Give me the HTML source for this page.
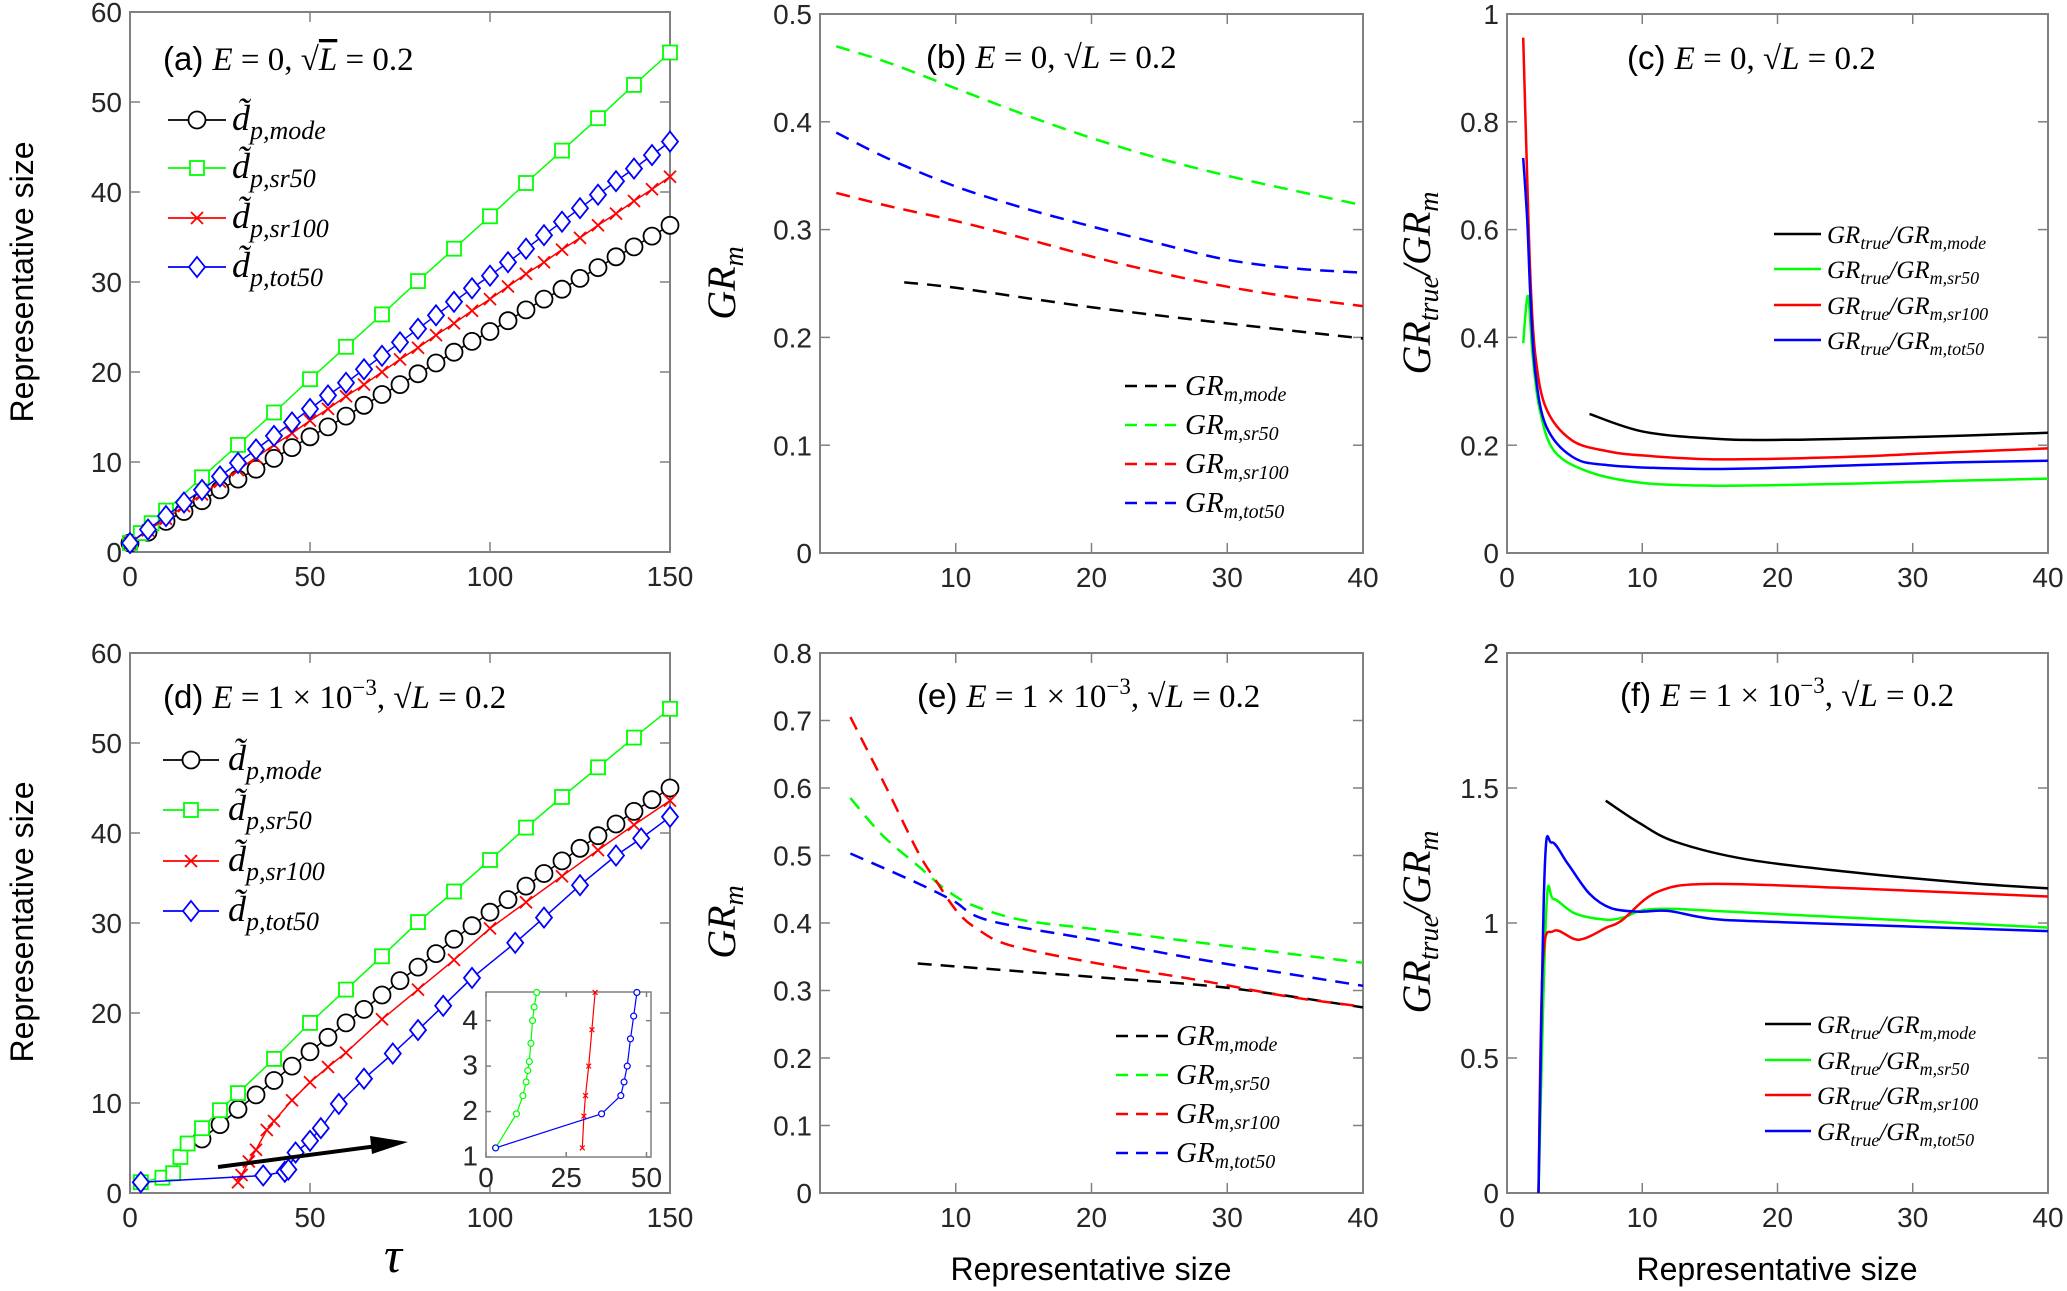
<!DOCTYPE html>
<html><head><meta charset="utf-8">
<style>
html,body{margin:0;padding:0;background:#fff;}
svg{display:block;}
.tk{font-family:"Liberation Sans",sans-serif;font-size:28px;fill:#262626;}
.ser{font-family:"Liberation Serif",serif;font-style:italic;}
.sans{font-family:"Liberation Sans",sans-serif;}
</style></head>
<body>
<svg id="fig" width="2067" height="1291" viewBox="0 0 2067 1291" xmlns="http://www.w3.org/2000/svg">
<text class="sans" font-size="32" fill="#000" text-anchor="middle" transform="translate(33,282) rotate(-90)">Representative size</text>
<text class="sans" font-size="32" fill="#000" text-anchor="middle" transform="translate(33,922) rotate(-90)">Representative size</text>
<text class="ser" font-size="40" fill="#000" text-anchor="middle" transform="translate(735,283) rotate(-90)">GR<tspan font-size="28" dy="8">m</tspan></text>
<text class="ser" font-size="40" fill="#000" text-anchor="middle" transform="translate(735,922) rotate(-90)">GR<tspan font-size="28" dy="8">m</tspan></text>
<text class="ser" font-size="40" fill="#000" text-anchor="middle" transform="translate(1430,283) rotate(-90)">GR<tspan font-size="28" dy="8">true</tspan><tspan dy="-8">/GR</tspan><tspan font-size="28" dy="8">m</tspan></text>
<text class="ser" font-size="40" fill="#000" text-anchor="middle" transform="translate(1430,922) rotate(-90)">GR<tspan font-size="28" dy="8">true</tspan><tspan dy="-8">/GR</tspan><tspan font-size="28" dy="8">m</tspan></text>
<text class="ser" font-size="50" fill="#000" x="384" y="1272">τ</text>
<text class="sans" font-size="32" fill="#000" x="1091" y="1280" text-anchor="middle">Representative size</text>
<text class="sans" font-size="32" fill="#000" x="1777" y="1280" text-anchor="middle">Representative size</text>
</svg>
<script>
// ---------- Panel (a) data ----------
const aTau = [0,5,10,15,20,25,30,35,40,45,50,55,60,65,70,75,80,85,90,95,100,105,110,115,120,125,130,135,140,145,150];
const aMode = [1.0,2.2,3.4,4.5,5.7,6.9,8.1,9.2,10.4,11.6,12.8,13.9,15.1,16.3,17.5,18.6,19.8,21.0,22.2,23.4,24.5,25.7,26.9,28.1,29.2,30.4,31.6,32.8,33.9,35.1,36.3];
const aSr100 = [1.0,2.4,3.7,5.1,6.4,7.8,9.1,10.5,11.9,13.2,14.6,15.9,17.3,18.6,20.0,21.4,22.7,24.1,25.4,26.8,28.1,29.5,30.9,32.2,33.6,34.9,36.3,37.6,39.0,40.3,41.7];
const aTot50 = [1.0,2.5,4.0,5.5,6.9,8.4,9.9,11.4,12.9,14.4,15.9,17.4,18.8,20.3,21.8,23.3,24.8,26.3,27.8,29.3,30.7,32.2,33.7,35.2,36.7,38.2,39.7,41.2,42.6,44.1,45.6];
const aTauSr50 = [0,3,6,10,20,30,40,50,60,70,80,90,100,110,120,130,140,150];
const aSr50 = [1.0,2.1,3.2,4.6,8.3,11.9,15.5,19.2,22.8,26.4,30.1,33.7,37.3,41.0,44.6,48.2,51.9,55.5];
// ---------- Panel (b) data ----------
const bXmode = [6.2,10,20,30,40];
const bMode = [0.251,0.246,0.228,0.213,0.199];
const bX = [1.2,5,10,15,20,25,30,35,40];
const bSr50 = [0.47,0.455,0.431,0.407,0.385,0.366,0.35,0.336,0.3225];
const bSr100 = [0.334,0.322,0.308,0.292,0.275,0.26,0.247,0.237,0.229];
const bTot50 = [0.39,0.366,0.34,0.32,0.303,0.287,0.272,0.264,0.26];
// ---------- Panel (c) data ----------
const cXmode = [6.1,10.1,15.4,20.7,31.2,40];
const cMode = [0.258,0.225,0.212,0.21,0.216,0.223];
const cXsr50 = [1.2,1.55,1.9,2.4,3.5,6.1,10,15,20,26,33,40];
const cSr50 = [0.389,0.477,0.366,0.268,0.189,0.15,0.13,0.125,0.126,0.129,0.134,0.138];
const cXsr100 = [1.2,1.5,1.75,2.1,2.9,4.8,7.4,10,15,20,26,32,40];
const cSr100 = [0.956,0.69,0.5,0.366,0.268,0.209,0.189,0.181,0.174,0.175,0.179,0.186,0.194];
const cXtot50 = [1.2,1.5,1.75,2.1,2.9,4.8,7.4,14,20,26,33,40];
const cTot50 = [0.733,0.615,0.464,0.333,0.235,0.179,0.163,0.156,0.158,0.163,0.168,0.171];
// ---------- Panel (d) data ----------
const dTauMode = [20,25,30,35,40,45,50,55,60,65,70,75,80,85,90,95,100,105,110,115,120,125,130,135,140,145,150];
const dMode = [6.0,7.6,9.3,10.9,12.5,14.1,15.7,17.3,18.9,20.4,22.0,23.6,25.1,26.6,28.2,29.7,31.2,32.6,34.1,35.5,36.9,38.3,39.7,41.0,42.4,43.7,45.0];
const dTauSr50 = [3,9,12,14,16,20,25,30,40,50,60,70,80,90,100,110,120,130,140,150];
const dSr50 = [1.2,1.7,2.2,4.0,5.5,7.2,9.2,11.1,14.9,18.9,22.6,26.3,30.1,33.5,37.0,40.6,44.0,47.3,50.6,53.8];
const dTauSr100 = [30,31,33,35,38,40,45,50,55,60,70,80,90,100,110,120,130,140,150];
const dSr100 = [1.2,2.0,3.5,4.8,7.0,8.0,10.3,12.3,14.0,15.6,19.3,22.6,25.9,29.4,32.3,35.2,38.1,40.9,43.6];
const dTauTot50 = [3,37,43,44,46,50,53,58,65,73,80,87,95,107,115,125,135,142,150];
const dTot50 = [1.2,1.95,2.35,2.6,4.5,5.8,7.2,9.9,12.7,15.5,18.1,20.8,23.9,27.8,30.6,34.2,37.5,39.4,41.8];
// inset
const inXsr50 = [3,9.5,11.5,12.5,13,13.5,14,14.5,15,15.8];
const inSr50 = [1.2,1.95,2.35,2.65,2.9,3.1,3.5,4.0,4.3,4.62];
const inXsr100 = [30,30.5,31,32,33,34];
const inSr100 = [1.2,1.9,2.35,3.0,3.8,4.62];
const inXtot50 = [3,36,42,43,44,45,46,47];
const inTot50 = [1.2,1.95,2.35,2.65,3.0,3.6,4.1,4.62];
// ---------- Panel (e) data ----------
const eXmode = [7.2,20.2,30,40];
const eMode = [0.34,0.32,0.304,0.275];
const eXsr50 = [2.24,4.6,7.2,9.3,11.4,15,20.2,28,40];
const eSr50 = [0.585,0.53,0.485,0.449,0.425,0.404,0.391,0.371,0.341];
const eXsr100 = [2.24,4.9,7.2,8.5,10.1,11.6,14,20.2,28,34.5,40];
const eSr100 = [0.705,0.6,0.506,0.464,0.417,0.391,0.367,0.341,0.315,0.291,0.276];
const eXtot50 = [2.24,7.2,9.8,12.4,20.2,28,40];
const eTot50 = [0.503,0.459,0.433,0.404,0.375,0.346,0.307];
// ---------- Panel (f) data ----------
const fXmode = [7.3,9.8,12.5,17.7,25.7,33.6,40];
const fMode = [1.453,1.37,1.30,1.236,1.187,1.15,1.128];
const fXsr50 = [2.33,2.9,3.44,5,7.15,8.5,10.9,17.7,40];
const fSr50 = [0,1.043,1.089,1.036,1.013,1.019,1.052,1.039,0.983];
const fXsr100 = [2.33,2.65,3.44,5.3,7.4,8.5,11.1,15.1,25.7,40];
const fSr100 = [0,0.846,0.97,0.938,0.984,1.01,1.115,1.145,1.128,1.098];
const fXtot50 = [2.33,2.78,3.3,4.5,6.1,7.7,9.8,11.9,15.1,20.4,40];
const fTot50 = [0,1.187,1.298,1.219,1.108,1.055,1.042,1.045,1.016,1.003,0.97];

const NS = 'http://www.w3.org/2000/svg';
const svg = document.getElementById('fig');
function mk(tag, attrs, parent){
  const e = document.createElementNS(NS, tag);
  for (const k in attrs) e.setAttribute(k, attrs[k]);
  (parent||svg).appendChild(e);
  return e;
}
function axes(p, name){
  p.sx = v => p.l + (v - p.xmin)/(p.xmax - p.xmin)*(p.r - p.l);
  p.sy = v => p.b - (v - p.ymin)/(p.ymax - p.ymin)*(p.b - p.t);
  const g = mk('g', {});
  
  
  p.g = g;
  if (p.bg) mk('rect', {x:p.l, y:p.t, width:p.r-p.l, height:p.b-p.t, fill:'#fff'}, g);
  const box = mk('rect', {x:p.l, y:p.t, width:p.r-p.l, height:p.b-p.t, fill:'none', stroke:'#808080', 'stroke-width':p.tl?1.5:2}, g);
  
  
  const tl = p.tl || 10;
  p.xt.forEach((v,i) => {
    const x = p.sx(v);
    const t1 = mk('line', {x1:x, x2:x, y1:p.b, y2:p.b-tl, stroke:'#808080', 'stroke-width':1.5}, g);
    
    
    mk('line', {x1:x, x2:x, y1:p.t, y2:p.t+tl, stroke:'#808080', 'stroke-width':1.5}, g);
    const tx = mk('text', {x:x, y:p.b + (p.fs||28) + 6, 'text-anchor':'middle', class:'tk', 'font-size':p.fs||28}, g);
    
    
    tx.textContent = p.xl[i];
  });
  p.yt.forEach((v,i) => {
    const y = p.sy(v);
    const t1 = mk('line', {x1:p.l, x2:p.l+tl, y1:y, y2:y, stroke:'#808080', 'stroke-width':1.5}, g);
    
    
    mk('line', {x1:p.r, x2:p.r-tl, y1:y, y2:y, stroke:'#808080', 'stroke-width':1.5}, g);
    const tx = mk('text', {x:p.l-8, y:y+(p.fs||28)*0.36, 'text-anchor':'end', class:'tk', 'font-size':p.fs||28}, g);
    
    
    tx.textContent = p.yl[i];
  });
  return p;
}
function smoothPath(pts){
  let d = 'M' + pts[0][0].toFixed(1) + ' ' + pts[0][1].toFixed(1);
  for (let i = 0; i < pts.length - 1; i++){
    const p0 = pts[Math.max(0,i-1)], p1 = pts[i], p2 = pts[i+1], p3 = pts[Math.min(pts.length-1,i+2)];
    const c1x = p1[0] + (p2[0]-p0[0])/6, c1y = p1[1] + (p2[1]-p0[1])/6;
    const c2x = p2[0] - (p3[0]-p1[0])/6, c2y = p2[1] - (p3[1]-p1[1])/6;
    d += ` C${c1x.toFixed(1)} ${c1y.toFixed(1)} ${c2x.toFixed(1)} ${c2y.toFixed(1)} ${p2[0].toFixed(1)} ${p2[1].toFixed(1)}`;
  }
  return d;
}
function line(p, xs, ys, color, opts, name){
  opts = opts || {};
  const pts = xs.map((x,i) => [p.sx(x), p.sy(ys[i])]);
  const d = opts.smooth ? smoothPath(pts) : pts.map((q,i) => (i?'L':'M') + q[0].toFixed(1) + ' ' + q[1].toFixed(1)).join(' ');
  const a = {d:d, fill:'none', stroke:color, 'stroke-width':opts.w||2.5, 'stroke-linejoin':'round'};
  if (opts.dash) a['stroke-dasharray'] = opts.dash;
  const e = mk('path', a, p.g);
  
  
  if (opts.marker) xs.forEach((x,i) => {
    const m = marker(p.g, opts.marker, p.sx(x), p.sy(ys[i]), color, opts.ms||1);
    
    
  });
  return e;
}
function marker(parent, type, x, y, c, s){
  const sw = s < 1 ? 1.2 : 1.8;
  if (type === 'o') return mk('circle', {cx:x, cy:y, r:8.5*s, fill:'#fff', stroke:c, 'stroke-width':sw}, parent);
  if (type === 's') return mk('rect', {x:x-7*s, y:y-7*s, width:14*s, height:14*s, fill:'#fff', stroke:c, 'stroke-width':sw}, parent);
  if (type === 'd') return mk('path', {d:`M${x} ${y-10*s} L${x+8*s} ${y} L${x} ${y+10*s} L${x-8*s} ${y} Z`, fill:'#fff', stroke:c, 'stroke-width':sw}, parent);
  return mk('path', {d:`M${x-6*s} ${y-6*s} L${x+6*s} ${y+6*s} M${x+6*s} ${y-6*s} L${x-6*s} ${y+6*s}`, fill:'none', stroke:c, 'stroke-width':sw}, parent);
}
function label(x, y, prefix, math, name){
  const t = mk('text', {x:x, y:y, 'font-size':33, fill:'#000'});
  
  
  t.innerHTML = `<tspan font-family="Liberation Sans,sans-serif">${prefix} </tspan><tspan font-family="Liberation Serif,serif">${math}</tspan>`;
}
const G='#00ff00', R='#ff0000', B='#0000ff', K='#000000';

// ----- Panel a -----
const A = axes({l:130,r:670,t:12,b:552,xmin:0,xmax:150,ymin:0,ymax:60,xt:[0,50,100,150],xl:['0','50','100','150'],yt:[0,10,20,30,40,50,60],yl:['0','10','20','30','40','50','60']}, 'panel-a');
line(A, aTau, aMode, K, {w:1.5, marker:'o'}, 'series-a-mode');
line(A, aTauSr50, aSr50, G, {w:1.5, marker:'s'}, 'series-a-sr50');
line(A, aTau, aSr100, R, {w:1.5, marker:'x'}, 'series-a-sr100');
line(A, aTau, aTot50, B, {w:1.5, marker:'d'}, 'series-a-tot50');
label(163, 70, '(a)', '<tspan font-style="italic">E</tspan> = 0, √<tspan font-style="italic" text-decoration="overline">L</tspan> = 0.2', 'panel-a-title');

// ----- Panel d -----
const D = axes({l:130,r:670,t:653,b:1193,xmin:0,xmax:150,ymin:0,ymax:60,xt:[0,50,100,150],xl:['0','50','100','150'],yt:[0,10,20,30,40,50,60],yl:['0','10','20','30','40','50','60']}, 'panel-d');
line(D, dTauMode, dMode, K, {w:1.5, marker:'o'}, 'series-d-mode');
line(D, dTauSr50, dSr50, G, {w:1.5, marker:'s'}, 'series-d-sr50');
line(D, dTauSr100, dSr100, R, {w:1.5, marker:'x'}, 'series-d-sr100');
line(D, dTauTot50, dTot50, B, {w:1.5, marker:'d'}, 'series-d-tot50');
label(163, 708, '(d)', '<tspan font-style="italic">E</tspan> = 1 × 10<tspan font-size="23" dy="-13">−3</tspan><tspan dy="13">, √</tspan><tspan font-style="italic">L</tspan> = 0.2', 'panel-d-title');
// arrow
const arr = mk('line', {x1:218, y1:1167, x2:385, y2:1145, stroke:'#000', 'stroke-width':4});


const ah = mk('path', {d:'M408 1142 L370 1136 L372 1154 Z', fill:'#000'});


// inset
const IN = axes({l:486,r:651,t:992,b:1157,xmin:0,xmax:51.4,ymin:1.0,ymax:4.63,tl:5,fs:24,bg:true,xt:[0,25,50],xl:['0','25','50'],yt:[1,2,3,4],yl:['1','2','3','4']}, 'inset');
line(IN, inXsr50, inSr50, G, {w:1.2, marker:'o', ms:0.35}, 'inset-sr50');
line(IN, inXsr100, inSr100, R, {w:1.2, marker:'x', ms:0.4}, 'inset-sr100');
line(IN, inXtot50, inTot50, B, {w:1.2, marker:'o', ms:0.35}, 'inset-tot50');

// legends a & d
function legMarkers(x0, x1, ys, tx, name){
  const types = ['o','s','x','d'], cols = [K,G,R,B], subs = ['p,mode','p,sr50','p,sr100','p,tot50'];
  ys.forEach((y,i) => {
    const l = mk('line', {x1:x0, x2:x1, y1:y, y2:y, stroke:cols[i], 'stroke-width':1.8});
    
    
    marker(svg, types[i], (x0+x1)/2, y, cols[i], 1);
    const t = mk('text', {x:tx, y:y+10, 'font-size':36, fill:'#000', class:'ser'});
    
    
    t.innerHTML = `d̃<tspan font-size="26" dy="9">${subs[i]}</tspan>`;
  });
}
legMarkers(168, 226, [120,168,218,267], 232, 'legend-a');
legMarkers(163, 219, [760,810,861,911], 228, 'legend-d');

// ----- Panel b -----
const Bp = axes({l:820,r:1363,t:14,b:553,xmin:0,xmax:40,ymin:0,ymax:0.5,xt:[10,20,30,40],xl:['10','20','30','40'],yt:[0,0.1,0.2,0.3,0.4,0.5],yl:['0','0.1','0.2','0.3','0.4','0.5']}, 'panel-b');
const dash = '14 9';
line(Bp, bXmode, bMode, K, {dash:dash, smooth:true}, 'series-b-mode');
line(Bp, bX, bSr50, G, {dash:dash, smooth:true}, 'series-b-sr50');
line(Bp, bX, bSr100, R, {dash:dash, smooth:true}, 'series-b-sr100');
line(Bp, bX, bTot50, B, {dash:dash, smooth:true}, 'series-b-tot50');
label(926, 68, '(b)', '<tspan font-style="italic">E</tspan> = 0, √<tspan font-style="italic">L</tspan> = 0.2', 'panel-b-title');

// ----- Panel e -----
const Ep = axes({l:820,r:1363,t:653,b:1193,xmin:0,xmax:40,ymin:0,ymax:0.8,xt:[10,20,30,40],xl:['10','20','30','40'],yt:[0,0.1,0.2,0.3,0.4,0.5,0.6,0.7,0.8],yl:['0','0.1','0.2','0.3','0.4','0.5','0.6','0.7','0.8']}, 'panel-e');
line(Ep, eXmode, eMode, K, {dash:dash, smooth:true}, 'series-e-mode');
line(Ep, eXsr50, eSr50, G, {dash:dash, smooth:true}, 'series-e-sr50');
line(Ep, eXsr100, eSr100, R, {dash:dash, smooth:true}, 'series-e-sr100');
line(Ep, eXtot50, eTot50, B, {dash:dash, smooth:true}, 'series-e-tot50');
label(917, 707, '(e)', '<tspan font-style="italic">E</tspan> = 1 × 10<tspan font-size="23" dy="-13">−3</tspan><tspan dy="13">, √</tspan><tspan font-style="italic">L</tspan> = 0.2', 'panel-e-title');

function legGR(x0, x1, ys, tx, name, solid, fs){
  const cols = [K,G,R,B], subs = ['m,mode','m,sr50','m,sr100','m,tot50'];
  ys.forEach((y,i) => {
    const a = {x1:x0, x2:x1, y1:y, y2:y, stroke:cols[i], 'stroke-width':2.5};
    if (!solid) a['stroke-dasharray'] = '12 8';
    const l = mk('line', a);
    
    
    const t = mk('text', {x:tx, y:y+9, 'font-size':fs, fill:'#000', class:'ser'});
    
    
    const sub = Math.round(fs*0.7);
    t.innerHTML = solid ? `GR<tspan font-size="${sub}" dy="6">true</tspan><tspan dy="-6">/GR</tspan><tspan font-size="${sub}" dy="6">${subs[i]}</tspan>`
                        : `GR<tspan font-size="${sub}" dy="6">${subs[i]}</tspan>`;
  });
}
legGR(1125, 1176, [386,425,464,503], 1185, 'legend-b', false, 29);
legGR(1116, 1168, [1036,1075,1114,1153], 1176, 'legend-e', false, 29);

// ----- Panel c -----
const Cp = axes({l:1507,r:2048,t:14,b:553,xmin:0,xmax:40,ymin:0,ymax:1,xt:[0,10,20,30,40],xl:['0','10','20','30','40'],yt:[0,0.2,0.4,0.6,0.8,1],yl:['0','0.2','0.4','0.6','0.8','1']}, 'panel-c');
line(Cp, cXmode, cMode, K, {smooth:true}, 'series-c-mode');
line(Cp, cXsr50, cSr50, G, {smooth:true}, 'series-c-sr50');
line(Cp, cXsr100, cSr100, R, {smooth:true}, 'series-c-sr100');
line(Cp, cXtot50, cTot50, B, {smooth:true}, 'series-c-tot50');
label(1627, 69, '(c)', '<tspan font-style="italic">E</tspan> = 0, √<tspan font-style="italic">L</tspan> = 0.2', 'panel-c-title');
legGR(1774, 1821, [234,269,305,340], 1827, 'legend-c', true, 25);

// ----- Panel f -----
const Fp = axes({l:1507,r:2048,t:653,b:1193,xmin:0,xmax:40,ymin:0,ymax:2,xt:[0,10,20,30,40],xl:['0','10','20','30','40'],yt:[0,0.5,1,1.5,2],yl:['0','0.5','1','1.5','2']}, 'panel-f');
line(Fp, fXmode, fMode, K, {smooth:true}, 'series-f-mode');
line(Fp, fXsr50, fSr50, G, {smooth:true}, 'series-f-sr50');
line(Fp, fXsr100, fSr100, R, {smooth:true}, 'series-f-sr100');
line(Fp, fXtot50, fTot50, B, {smooth:true}, 'series-f-tot50');
label(1620, 706, '(f)', '<tspan font-style="italic">E</tspan> = 1 × 10<tspan font-size="23" dy="-13">−3</tspan><tspan dy="13">, √</tspan><tspan font-style="italic">L</tspan> = 0.2', 'panel-f-title');
legGR(1765, 1811, [1024,1060,1095,1131], 1817, 'legend-f', true, 25);
</script>
</body></html>
